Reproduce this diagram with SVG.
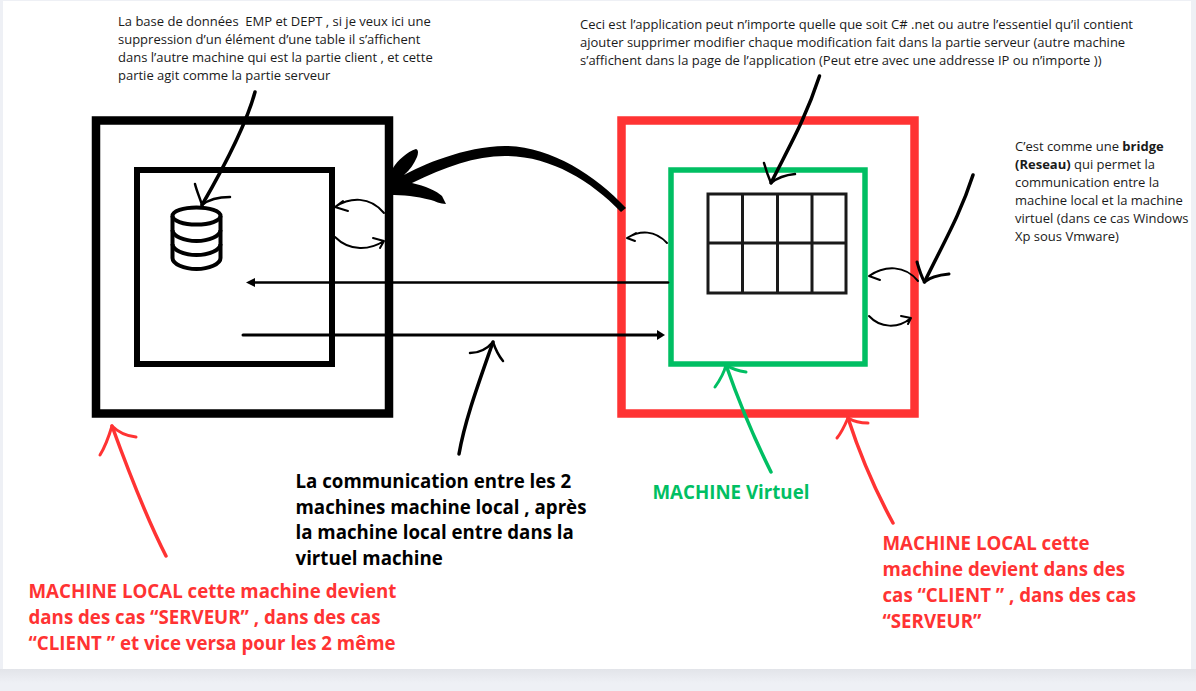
<svg xmlns="http://www.w3.org/2000/svg" width="1196" height="691" viewBox="0 0 1196 691">
<defs>
<linearGradient id="shade" x1="0" y1="0" x2="0" y2="1"><stop offset="0" stop-color="#e2e4e9"/><stop offset="1" stop-color="#eef0f5"/></linearGradient>
</defs>
<style>
text{font-family:"Open Sans","Noto Sans",sans-serif;white-space:pre}
.s{font-size:13px;fill:#1a1a1a}
.b{font-size:18.7px;font-weight:700}
.box{fill:none}
.c{fill:none;stroke:#000;stroke-linecap:round;stroke-linejoin:round}
.red{stroke:#ff3333}
.grn{stroke:#00bf63}
</style>
<rect width="1196" height="691" fill="#eef0f5"/>
<rect x="0" y="669" width="1196" height="14" fill="url(#shade)"/>
<rect x="3" y="1" width="1188" height="668" fill="#fff"/>

<g id="machine-local-left">
<rect class="box" x="96" y="120.500" width="293" height="293" stroke="#000" stroke-width="8.500"/>
<rect class="box" x="137" y="170" width="195" height="194" stroke="#000" stroke-width="6"/>
</g>
<g id="machine-local-right">
<rect class="box" x="621.500" y="120.500" width="293" height="293" stroke="#ff3333" stroke-width="8.500"/>
</g>
<g id="machine-virtuel">
<rect class="box" x="671" y="170" width="194" height="194" stroke="#00bf63" stroke-width="5.500"/>
</g>
<g id="database" fill="none" stroke="#000" stroke-width="4">
<ellipse cx="196.500" cy="216" rx="24" ry="8.500"/>
<path d="M172.500 216V258C172.500 264 184 269 196.500 269S220.500 264 220.500 258V216"/>
<path d="M172.500 230C172.500 236 184 241 196.500 241S220.500 236 220.500 230M172.500 244C172.500 250 184 255 196.500 255S220.500 250 220.500 244"/>
</g>
<g id="application" fill="none" stroke="#1a1a1a" stroke-width="3">
<rect x="708" y="194" width="138" height="99"/>
<path d="M708 243H846M742.500 194V293M777.500 194V293M812 194V293"/>
</g>

<g id="connectors">
<path d="M668 282.500H252" class="c" stroke-width="2.500"/>
<path d="M246 282.500L255 278V287Z" fill="#000"/>
<path d="M243 335H659" class="c" stroke-width="3"/>
<path d="M665 335L657 330V340Z" fill="#000"/>
<!-- big curved arrow -->
<path d="M393 168C398 160 407 152 416 149C419 150 418 154 417 157C414 164 410 170 404 175C420 166 465 146 505 146C550 146 595 175 626 208L621 212C590 180 550 156 505 156C475 156 445 167 412 183C425 186 437 191 442 196L446 204C440 204 435 201 431 200C415 196 405 195 388 195V170Z" fill="#000"/>
<!-- db pointer -->
<path d="M255 92C248 118 228 160 202 205" class="c" stroke-width="3.500"/>
<path d="M195 184C197 192 200 198 202 205C208 200 216 197 230 197" class="c" stroke-width="2.500"/>
<!-- app pointer -->
<path d="M819.500 76C805 120 790 145 771 183" class="c" stroke-width="3.500"/>
<path d="M764 163C766 170 768 176 771 183C777 178 785 175 795 174" class="c" stroke-width="2.500"/>
<!-- bridge pointer -->
<path d="M973 175C960 215 945 240 924.500 282" class="c" stroke-width="3.500"/>
<path d="M917 262C919 269 921 276 924.500 282C930 277 938 275 949 274" class="c" stroke-width="3"/>
<!-- communication pointer -->
<path d="M459 454C465 420 478 385 493 342" class="c" stroke-width="3.500"/>
<path d="M470 353C478 353 487 349 493 342C495 348 498 355 503 361" class="c" stroke-width="2.500"/>
<!-- small arcs left -->
<path d="M384 213C370 196 350 197 335 207M343 201L335 207L348 211" class="c" stroke-width="2"/>
<path d="M335 237C350 252 370 250 384 241M373 238L384 241L380 248" class="c" stroke-width="2"/>
<!-- small arcs right -->
<path d="M667 243C655 230 640 230 627 238M636 233L627 238L635 241" class="c" stroke-width="2"/>
<path d="M918 281C905 265 885 265 869 276M878 271L869 276L880 280" class="c" stroke-width="2"/>
<path d="M869 316C880 328 898 329 911 318M901 316L911 318L908 324" class="c" stroke-width="2"/>
<!-- green pointer -->
<path d="M771 472C755 440 740 405 726 365" class="c grn" stroke-width="3.500"/>
<path d="M715 387C720 380 724 373 726 365C732 369 738 371 746 372" class="c grn" stroke-width="3"/>
<!-- red pointer right -->
<path d="M893 523C875 490 860 455 848 418" class="c red" stroke-width="3.500"/>
<path d="M837 438C842 432 845 425 848 418C853 421 860 423 868 423" class="c red" stroke-width="3"/>
<!-- red pointer left -->
<path d="M166 556C145 515 128 470 112 426" class="c red" stroke-width="3.500"/>
<path d="M100 455C105 447 109 436 112 426C118 432 126 436 136 437" class="c red" stroke-width="3"/>
</g>

<g id="labels">
<text class="s" x="118" y="26">La base de données  EMP et DEPT , si je veux ici une</text>
<text class="s" x="118" y="44">suppression d’un élément d’une table il s’affichent</text>
<text class="s" x="118" y="62">dans l’autre machine qui est la partie client , et cette</text>
<text class="s" x="118" y="80">partie agit comme la partie serveur</text>
<text class="s" x="580" y="29">Ceci est l’application peut n’importe quelle que soit C# .net ou autre l’essentiel qu’il contient</text>
<text class="s" x="580" y="47">ajouter supprimer modifier chaque modification fait dans la partie serveur (autre machine</text>
<text class="s" x="580" y="65">s’affichent dans la page de l’application (Peut etre avec une addresse IP ou n’importe ))</text>
<text class="s" x="1015" y="151">C’est comme une <tspan font-weight="700">bridge</tspan></text>
<text class="s" x="1015" y="169"><tspan font-weight="700">(Reseau)</tspan> qui permet la</text>
<text class="s" x="1015" y="187">communication entre la</text>
<text class="s" x="1015" y="205">machine local et la machine</text>
<text class="s" x="1015" y="223">virtuel (dans ce cas Windows</text>
<text class="s" x="1015" y="241">Xp sous Vmware)</text>
<text class="b" x="295.500" y="488" fill="#000">La communication entre les 2</text>
<text class="b" x="295.500" y="514" fill="#000">machines machine local , après</text>
<text class="b" x="295.500" y="539" fill="#000">la machine local entre dans la</text>
<text class="b" x="295.500" y="565" fill="#000">virtuel machine</text>
<text class="b" x="652.500" y="499" fill="#00bf63">MACHINE Virtuel</text>
<text class="b" x="882.500" y="550" fill="#ff3333">MACHINE LOCAL cette</text>
<text class="b" x="882.500" y="576" fill="#ff3333">machine devient dans des</text>
<text class="b" x="882.500" y="602" fill="#ff3333">cas “CLIENT ” , dans des cas</text>
<text class="b" x="882.500" y="628" fill="#ff3333">“SERVEUR”</text>
<text class="b" x="28.500" y="598" fill="#ff3333">MACHINE LOCAL cette machine devient</text>
<text class="b" x="28.500" y="624" fill="#ff3333">dans des cas “SERVEUR” , dans des cas</text>
<text class="b" x="28.500" y="650" fill="#ff3333">“CLIENT ” et vice versa pour les 2 même</text>
</g>
</svg>
